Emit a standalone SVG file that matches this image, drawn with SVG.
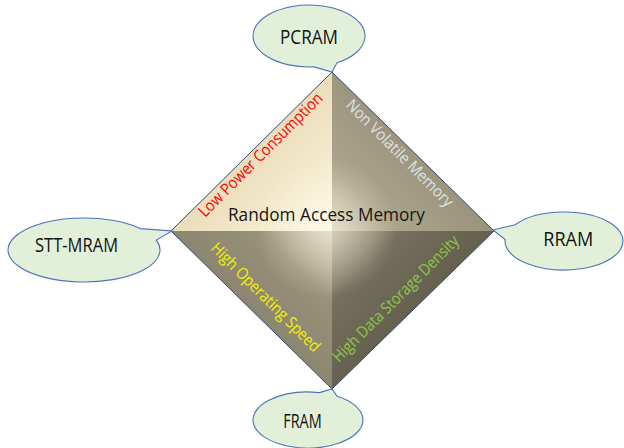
<svg xmlns="http://www.w3.org/2000/svg" width="624" height="448" viewBox="0 0 624 448">
  <style>
    .callout { fill: #E2F0D9; stroke: #4A72B8; stroke-width: 1.1; }
    .clabel { font-family: "Open Sans", "Liberation Sans", sans-serif; font-size: 19.5px; fill: #111; text-anchor: middle; }
    .edge { font-family: "Open Sans", "Liberation Sans", sans-serif; font-size: 16px; text-anchor: middle; }
    .title { font-family: "Open Sans", "Liberation Sans", sans-serif; font-size: 19px; fill: #151515; text-anchor: middle; }
  </style>
  <defs>
    <linearGradient id="gTL" gradientUnits="userSpaceOnUse" x1="251" y1="151" x2="332" y2="231">
      <stop offset="0" stop-color="#EADDBA"/>
      <stop offset="0.6" stop-color="#F5ECD0"/>
      <stop offset="1" stop-color="#FDF8E5"/>
    </linearGradient>
    <linearGradient id="gTR" gradientUnits="userSpaceOnUse" x1="413" y1="151" x2="332" y2="231">
      <stop offset="0" stop-color="#9B957E"/>
      <stop offset="0.6" stop-color="#ACA58C"/>
      <stop offset="1" stop-color="#D0C8AB"/>
    </linearGradient>
    <linearGradient id="gBL" gradientUnits="userSpaceOnUse" x1="251" y1="310" x2="332" y2="231">
      <stop offset="0" stop-color="#8C8570"/>
      <stop offset="0.55" stop-color="#99927A"/>
      <stop offset="1" stop-color="#D0C8AA"/>
    </linearGradient>
    <linearGradient id="gBR" gradientUnits="userSpaceOnUse" x1="413" y1="310" x2="332" y2="231">
      <stop offset="0" stop-color="#66614F"/>
      <stop offset="0.55" stop-color="#75705D"/>
      <stop offset="1" stop-color="#B0A98F"/>
    </linearGradient>
    <radialGradient id="glow" gradientUnits="userSpaceOnUse" cx="326" cy="228" r="70">
      <stop offset="0" stop-color="#FFFBEA" stop-opacity="0.5"/>
      <stop offset="1" stop-color="#FFFBEA" stop-opacity="0"/>
    </radialGradient>
  </defs>

  <!-- central pyramid -->
  <g id="ram">
    <polygon points="332,72 171,231 332,231" fill="url(#gTL)"/>
    <polygon points="332,72 494,231 332,231" fill="url(#gTR)"/>
    <polygon points="171,231 332,389 332,231" fill="url(#gBL)"/>
    <polygon points="494,231 332,389 332,231" fill="url(#gBR)"/>
    <polygon points="332,72 494,231 332,389 171,231" fill="url(#glow)"/>
    <polygon points="332,72 494,231 332,389 171,231" fill="none" stroke="#34486B" stroke-width="1"/>
    <text class="title" x="326.5" y="221" textLength="197" lengthAdjust="spacingAndGlyphs">Random Access Memory</text>
    <text class="edge" fill="#FF0000" transform="translate(264.4,158.6) rotate(-45)" textLength="168" lengthAdjust="spacingAndGlyphs">Low Power Consumption</text>
    <text class="edge" fill="#DDE2E8" transform="translate(396,157) rotate(45)" textLength="144" lengthAdjust="spacingAndGlyphs">Non Volatile Memory</text>
    <text class="edge" fill="#F2F200" transform="translate(262,301) rotate(45)" textLength="147" lengthAdjust="spacingAndGlyphs">High Operating Speed</text>
    <text class="edge" fill="#8CC84B" transform="translate(399.5,302.5) rotate(-45)" textLength="171" lengthAdjust="spacingAndGlyphs">High Data Storage Density</text>
  </g>

  <!-- oval callouts pointing at the pyramid corners -->
  <g id="pcram">
    <path class="callout" d="M337,62.85 L332,72 L313.88,66.88 A56,31 0 1 1 337,62.85 Z"/>
    <text class="clabel" x="309" y="44" textLength="58" lengthAdjust="spacingAndGlyphs">PCRAM</text>
  </g>
  <g id="stt-mram">
    <path class="callout" d="M140.48,228.59 L172,231 L156.28,240.11 A76,32 0 1 1 140.48,228.59 Z"/>
    <text class="clabel" x="76.5" y="251.7" textLength="83" lengthAdjust="spacingAndGlyphs">STT-MRAM</text>
  </g>
  <g id="rram">
    <path class="callout" d="M505.08,239.48 L493,230 L515.09,224.78 A59,29 0 1 1 505.08,239.48 Z"/>
    <text class="clabel" x="568.3" y="246" textLength="50" lengthAdjust="spacingAndGlyphs">RRAM</text>
  </g>
  <g id="fram">
    <path class="callout" d="M319.44,392.61 L332,389 L337.15,396.26 A55,28 0 1 1 319.44,392.61 Z"/>
    <text class="clabel" x="302.5" y="428.3" textLength="38.5" lengthAdjust="spacingAndGlyphs">FRAM</text>
  </g>
</svg>
